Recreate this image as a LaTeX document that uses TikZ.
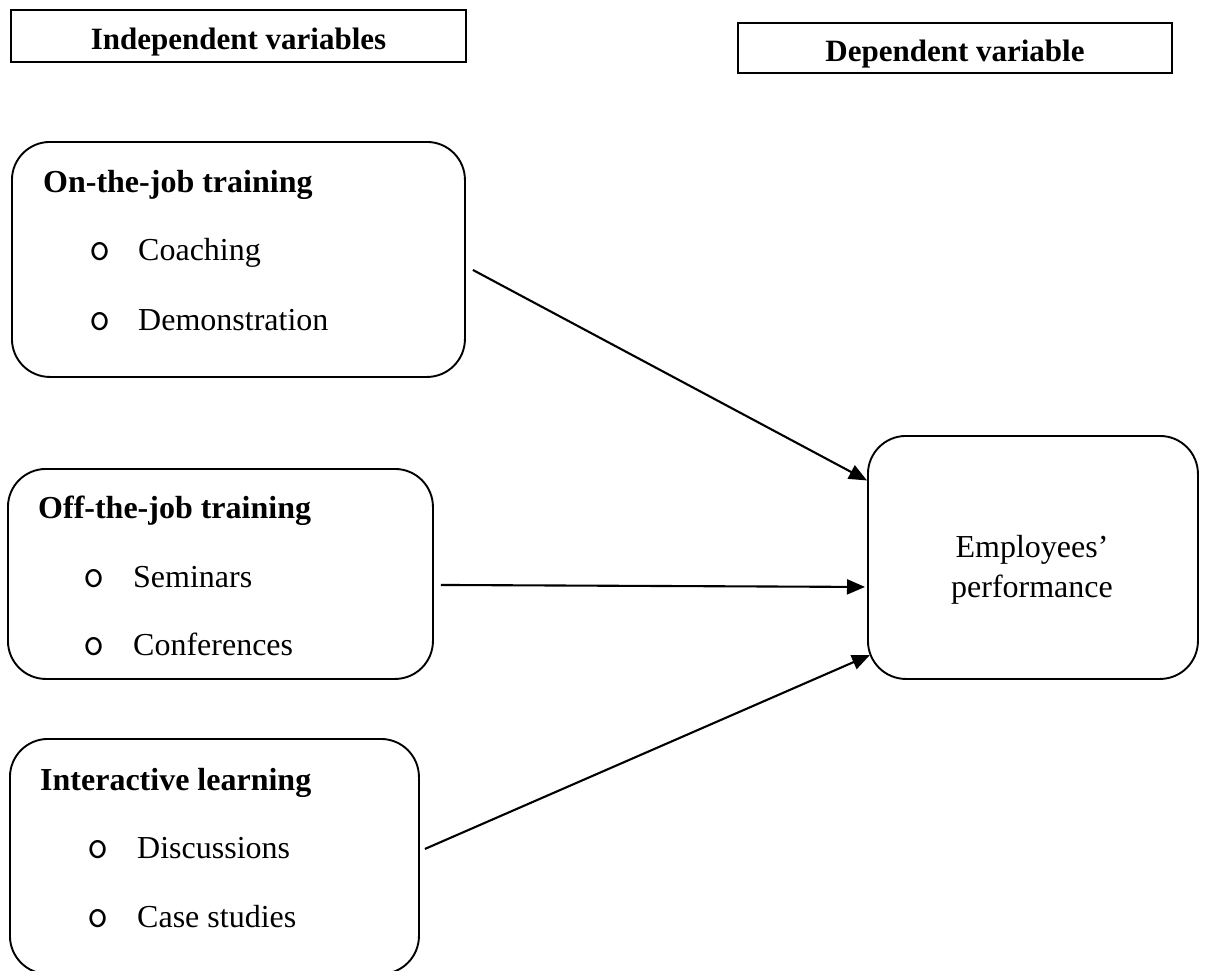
\documentclass[tikz,border=0pt]{standalone}
\usepackage{fontspec}
\setmainfont{Liberation Serif}
\usetikzlibrary{arrows.meta}
\begin{document}
\begin{tikzpicture}[x=1pt,y=-1pt,
  header/.style={draw, line width=2.6pt, rectangle, inner sep=0pt,
    font=\fontsize{31}{36}\selectfont\bfseries, text height=27pt, text depth=0pt},
  groupbox/.style={draw, line width=1.9pt, rectangle, rounded corners=38pt,
    inner sep=0pt, anchor=north west},
  title/.style={anchor=base west, inner sep=0pt, font=\fontsize{32}{38}\selectfont\bfseries},
  item/.style={anchor=base west, inner sep=0pt, font=\fontsize{32}{38}\selectfont},
  itemc/.style={anchor=base, inner sep=0pt, font=\fontsize{32}{38}\selectfont},
  dot/.style={anchor=base west, inner sep=0pt, font=\fontsize{41}{44}\selectfont\ttfamily},
  link/.style={line width=2.1pt, -{Triangle[length=18pt,width=15pt]}}]
\useasboundingbox (0,0) rectangle (1205,970);
\clip (0,0) rectangle (1205,970);

% column headings
\node[header, minimum width=455pt, minimum height=52pt] (hind) at (238.5,36) {Independent variables};
\node[header, minimum width=434pt, minimum height=50pt] (hdep) at (955,48) {Dependent variable};

% on-the-job training
\node[groupbox, minimum width=453pt, minimum height=235pt] (ojt) at (11,141) {};
\node[title] (ojtt) at (43,192) {On-the-job training};
\node[dot] (ojtd1) at (89.5,260) {o};
\node[item] (ojti1) at (138,260) {Coaching};
\node[dot] (ojtd2) at (89.5,330) {o};
\node[item] (ojti2) at (138,330) {Demonstration};

% off-the-job training
\node[groupbox, minimum width=425pt, minimum height=210pt] (fjt) at (7,468) {};
\node[title] (fjtt) at (38,518) {Off-the-job training};
\node[dot] (fjtd1) at (83.5,587) {o};
\node[item] (fjti1) at (133,587) {Seminars};
\node[dot] (fjtd2) at (83.5,655) {o};
\node[item] (fjti2) at (133,655) {Conferences};

% interactive learning
\node[groupbox, minimum width=409pt, minimum height=235pt] (il) at (9,738) {};
\node[title] (ilt) at (40,790) {Interactive learning};
\node[dot] (ild1) at (87.5,858) {o};
\node[item] (ili1) at (137,858) {Discussions};
\node[dot] (ild2) at (87.5,927) {o};
\node[item] (ili2) at (137,927) {Case studies};

% outcome
\node[groupbox, minimum width=330pt, minimum height=243pt] (perf) at (867,435) {};
\node[itemc] (perfa) at (1032,557) {Employees’};
\node[itemc] (perfb) at (1032,597) {performance};

% influences
\draw[link] ([xshift=7pt,yshift=-10.5pt]ojt.east) -- ([yshift=77pt]perf.west);
\draw[link] ([xshift=7pt,yshift=-11pt]fjt.east) -- ([xshift=-2pt,yshift=-29.5pt]perf.west);
\draw[link] ([xshift=5pt,yshift=7.5pt]il.east) -- ([xshift=3pt,yshift=-97.5pt]perf.west);
\end{tikzpicture}
\end{document}
